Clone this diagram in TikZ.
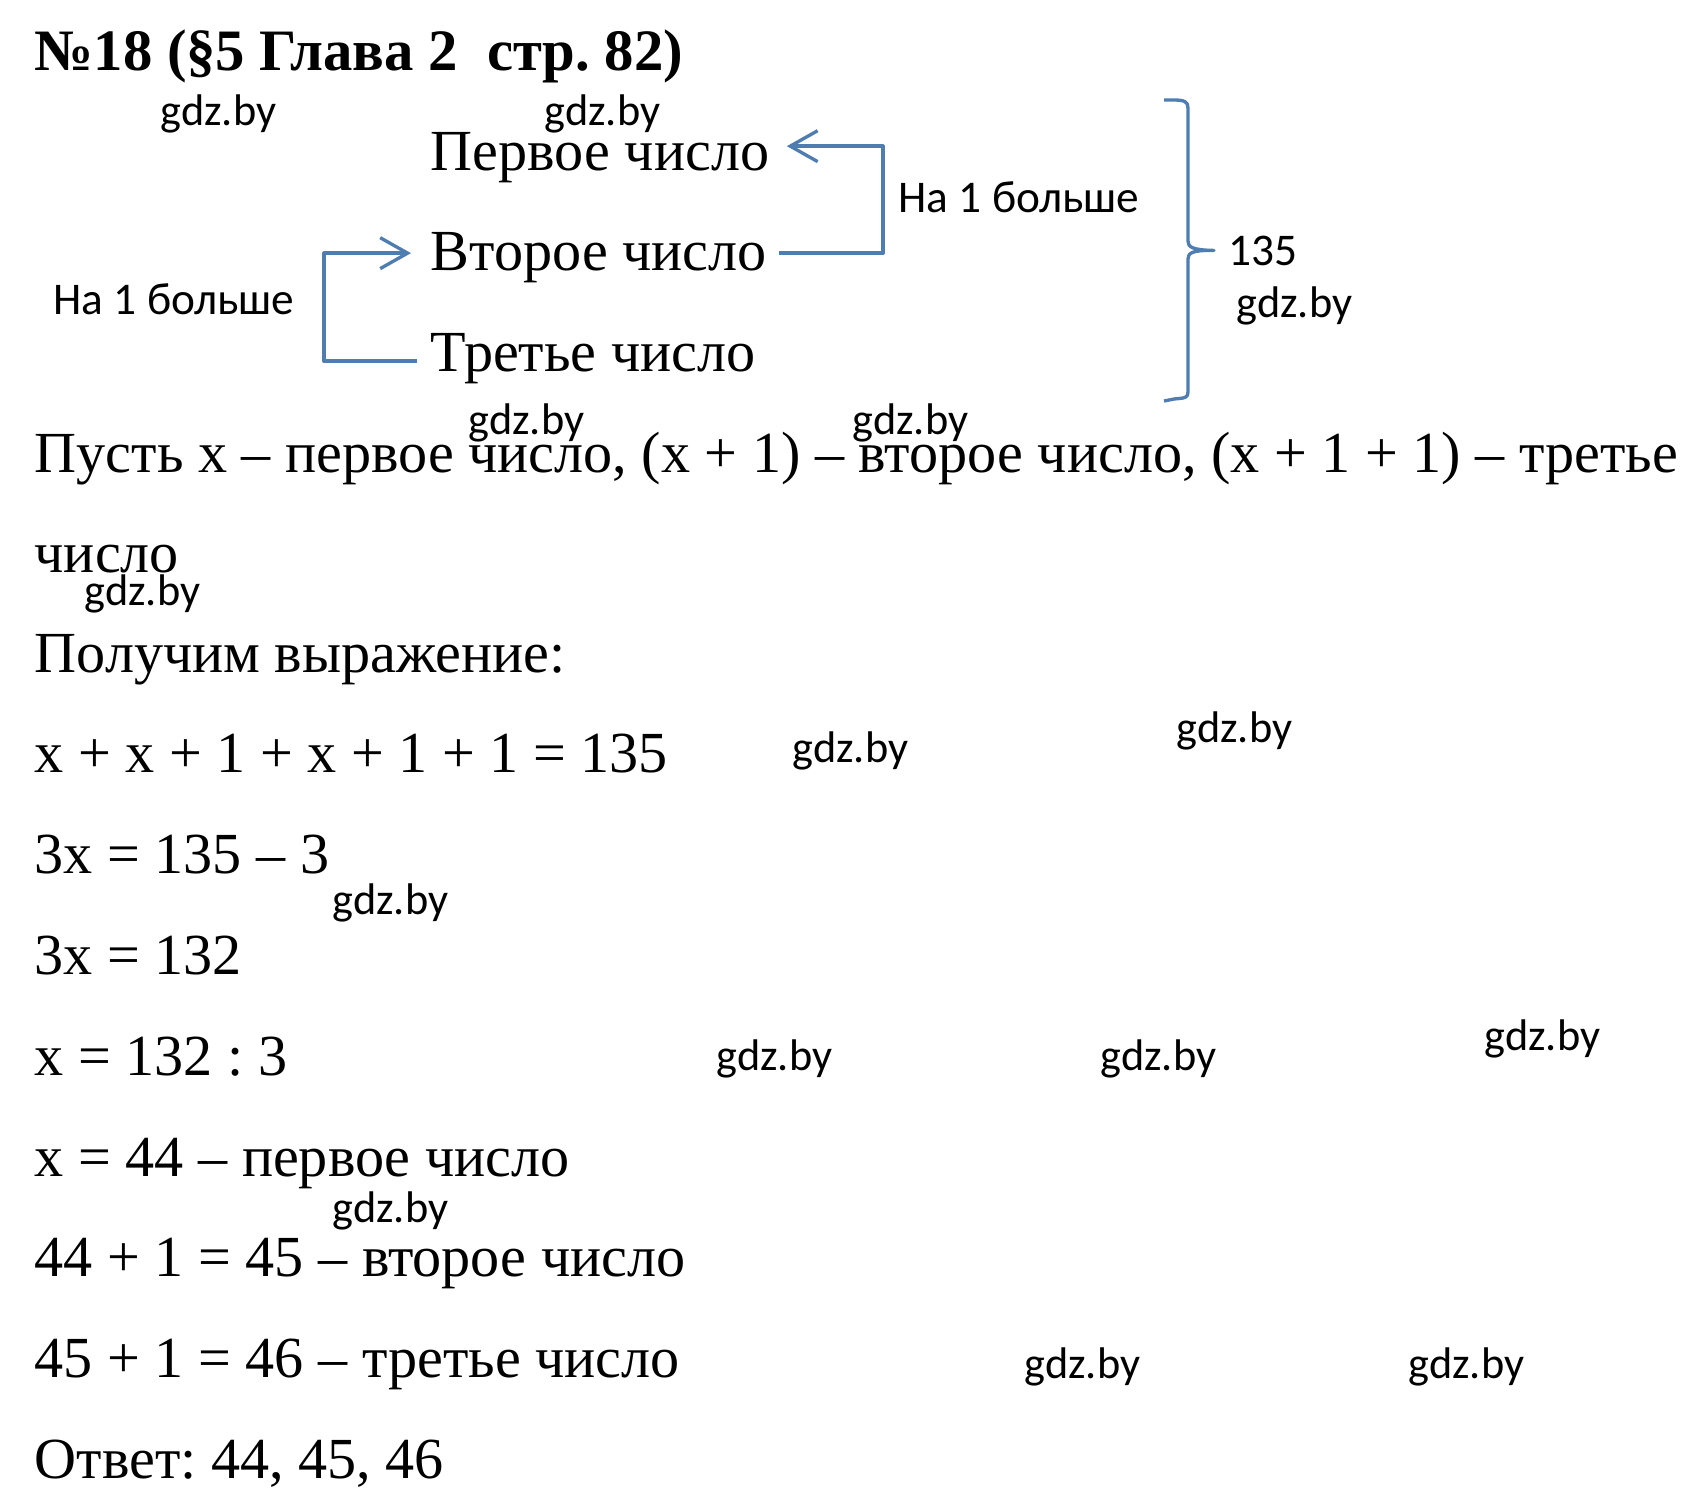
\documentclass[tikz,border=0pt]{standalone}
\usepackage{fontspec}
\setmainfont{Liberation Serif}
\newfontfamily\notefont{Carlito}
\usetikzlibrary{arrows.meta, positioning}
\definecolor{linkblue}{HTML}{4F7DAF}
\tikzset{
    solve/.style={anchor=base west, inner sep=0pt, font=\fontsize{16.55pt}{18pt}\selectfont},
    note/.style={anchor=base west, inner sep=0pt, font=\notefont\fontsize{12.9pt}{15pt}\selectfont},
    sitemark/.style={anchor=base west, inner sep=0pt, font=\notefont\fontsize{12.6pt}{15pt}\selectfont},
    link/.style={linkblue, line width=0.95pt, line join=round},
    barb/.style={-{Straight Barb[length=7.8pt,width=8.8pt,linkblue]}}
}
\begin{document}
\frenchspacing
\begin{tikzpicture}[x=0.1mm, y=-0.1mm]
    \useasboundingbox (0,0) rectangle (1701,1505);

    % Heading
    \node[solve, font=\fontsize{16.7pt}{18pt}\selectfont\bfseries] (title) at (34,70) {№18 (§5 Глава 2 \ стр. 82)};

    % Three numbers
    \node[solve] (first) at (430,170) {Первое число};
    \node[solve] (second) at (430,270) {Второе число};
    \node[solve] (third) at (430,371) {Третье число};

    % Notes
    \node[note] (noteup) at (898,212) {На 1 больше};
    \node[note] (notedown) at (53,314) {На 1 больше};
    \node[note] (sum) at (1228,265) {135};

    % Connectors
    \coordinate (railright) at (883,200);
    \coordinate (railleft) at (324,300);
    \draw[link, barb] ([shift={(12,-4)}]second.east) -| (railright) |- ([shift={(17,-11)}]first.east);
    \draw[link, barb] ([shift={(-13,3)}]third.west) -| (railleft) |- ([shift={(-19,-4)}]second.west);

    % Brace
    \draw[link] (1164,100) -- (1174,100) .. controls (1185,100) and (1188,102) .. (1188,108) -- (1188,241)
        .. controls (1188,247) and (1192,250) .. ([shift={(-14,0)}]sum.west)
        .. controls (1192,250) and (1188,253) .. (1188,259) -- (1188,392)
        .. controls (1188,398) and (1185,398) .. (1174,399) -- (1164,401);

    % Solution
    \node[solve] (line1) at (34,472) {Пусть x – первое число, (x + 1) – второе число, (x + 1 + 1) – третье};
    \node[solve] (line2) at (34,572) {число};
    \node[solve] (line3) at (34,672) {Получим выражение:};
    \node[solve] (line4) at (34,772) {x + x + 1 + x + 1 + 1 = 135};
    \node[solve] (line5) at (34,873) {3x = 135 – 3};
    \node[solve] (line6) at (34,974) {3x = 132};
    \node[solve] (line7) at (34,1075) {x = 132 : 3};
    \node[solve] (line8) at (34,1176) {x = 44 – первое число};
    \node[solve] (line9) at (34,1276) {44 + 1 = 45 – второе число};
    \node[solve] (line10) at (34,1377) {45 + 1 = 46 – третье число};
    \node[solve] (line11) at (34,1478) {Ответ: 44, 45, 46};

    % Site marks
    \foreach \i/\px/\py in {1/160/125, 2/544/125, 3/1236/317, 4/468/434, 5/852/434, 6/84/605, 7/792/762, 8/1176/742, 9/332/914, 10/716/1070, 11/1100/1070, 12/1484/1050, 13/332/1222, 14/1024/1378, 15/1408/1378}
        \node[sitemark] (mark\i) at (\px,\py) {gdz.by};
\end{tikzpicture}
\end{document}
